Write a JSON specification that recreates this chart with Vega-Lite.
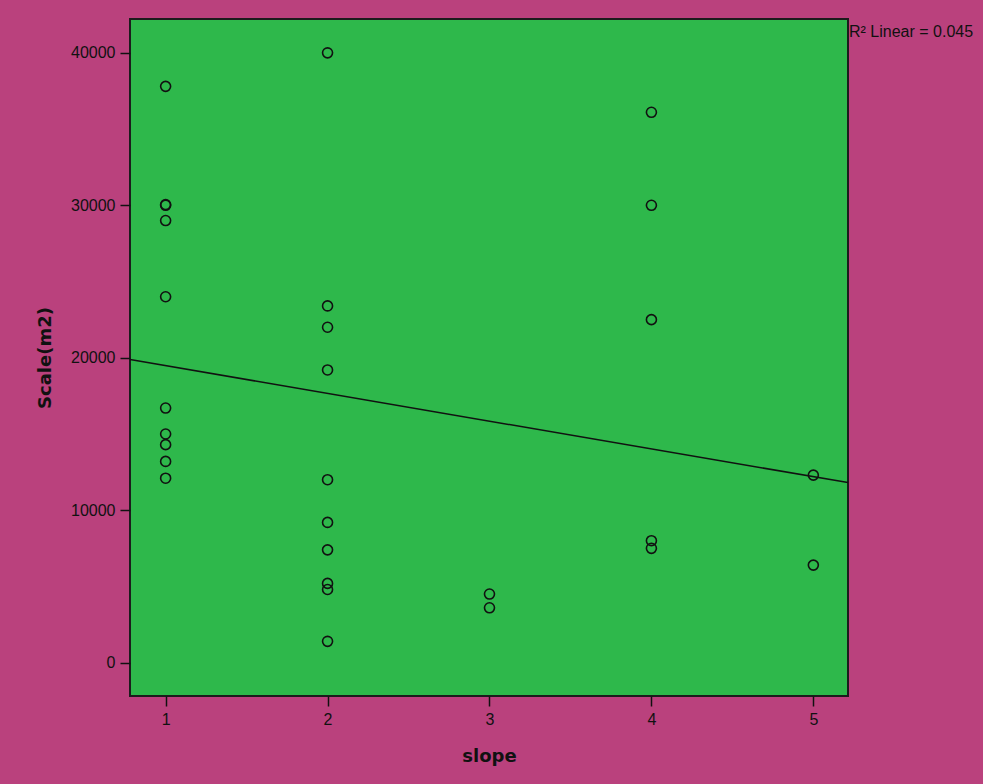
{
  "$schema": "https://vega.github.io/schema/vega-lite/v6.json",
  "autosize": {"type": "none"},
  "width": 718,
  "height": 677,
  "padding": {"left": 130, "top": 19, "right": 135, "bottom": 88},
  "background": "#BA417D",
  "config": {
    "view": {"fill": "#2EB84B", "stroke": "#1c1c1c", "strokeWidth": 2},
    "axis": {
      "domain": false,
      "ticks": true,
      "tickColor": "#111111",
      "tickSize": 10,
      "tickWidth": 1.5,
      "grid": false,
      "labelFont": "Liberation Sans",
      "labelFontSize": 16,
      "labelColor": "#111111",
      "titleFont": "DejaVu Sans",
      "titleFontSize": 18,
      "titleFontWeight": "bold",
      "titleColor": "#111111",
      "zindex": 1
    }
  },
  "datasets": {
    "points": [
      {"slope": 1, "Scale": 37800},
      {"slope": 1, "Scale": 30000},
      {"slope": 1, "Scale": 30050},
      {"slope": 1, "Scale": 29000},
      {"slope": 1, "Scale": 24000},
      {"slope": 1, "Scale": 16700},
      {"slope": 1, "Scale": 15000},
      {"slope": 1, "Scale": 14300},
      {"slope": 1, "Scale": 13200},
      {"slope": 1, "Scale": 12100},
      {"slope": 2, "Scale": 40000},
      {"slope": 2, "Scale": 23400},
      {"slope": 2, "Scale": 22000},
      {"slope": 2, "Scale": 19200},
      {"slope": 2, "Scale": 12000},
      {"slope": 2, "Scale": 9200},
      {"slope": 2, "Scale": 7400},
      {"slope": 2, "Scale": 5200},
      {"slope": 2, "Scale": 4800},
      {"slope": 2, "Scale": 1400},
      {"slope": 3, "Scale": 4500},
      {"slope": 3, "Scale": 3600},
      {"slope": 4, "Scale": 36100},
      {"slope": 4, "Scale": 30000},
      {"slope": 4, "Scale": 22500},
      {"slope": 4, "Scale": 8000},
      {"slope": 4, "Scale": 7500},
      {"slope": 5, "Scale": 12300},
      {"slope": 5, "Scale": 6400}
    ],
    "note": [{"slope": 5.214, "Scale": 42219, "label": "R² Linear = 0.045"}]
  },
  "layer": [
    {
      "data": {"name": "points"},
      "mark": {"type": "point", "shape": "circle", "filled": false, "stroke": "#111111", "strokeWidth": 1.6, "size": 100, "opacity": 1},
      "encoding": {
        "x": {
          "field": "slope",
          "type": "quantitative",
          "scale": {"domain": [0.78, 5.214], "nice": false, "zero": false},
          "axis": {"values": [1, 2, 3, 4, 5], "format": "d", "labelPadding": 5, "title": "slope", "titlePadding": 20}
        },
        "y": {
          "field": "Scale",
          "type": "quantitative",
          "scale": {"domain": [-2186, 42219], "nice": false, "zero": false},
          "axis": {"values": [0, 10000, 20000, 30000, 40000], "format": "d", "labelPadding": 5, "title": "Scale(m2)", "titlePadding": 16}
        }
      }
    },
    {
      "data": {"name": "points"},
      "transform": [{"regression": "Scale", "on": "slope", "extent": [0.78, 5.214]}],
      "mark": {"type": "line", "color": "#111111", "strokeWidth": 1.5, "clip": true},
      "encoding": {
        "x": {"field": "slope", "type": "quantitative"},
        "y": {"field": "Scale", "type": "quantitative"}
      }
    },
    {
      "data": {"name": "note"},
      "mark": {"type": "text", "align": "left", "baseline": "top", "font": "Liberation Sans", "fontSize": 16, "color": "#111111", "dx": 1, "dy": 5, "clip": false},
      "encoding": {
        "x": {"field": "slope", "type": "quantitative"},
        "y": {"field": "Scale", "type": "quantitative"},
        "text": {"field": "label", "type": "nominal"}
      }
    }
  ]
}
